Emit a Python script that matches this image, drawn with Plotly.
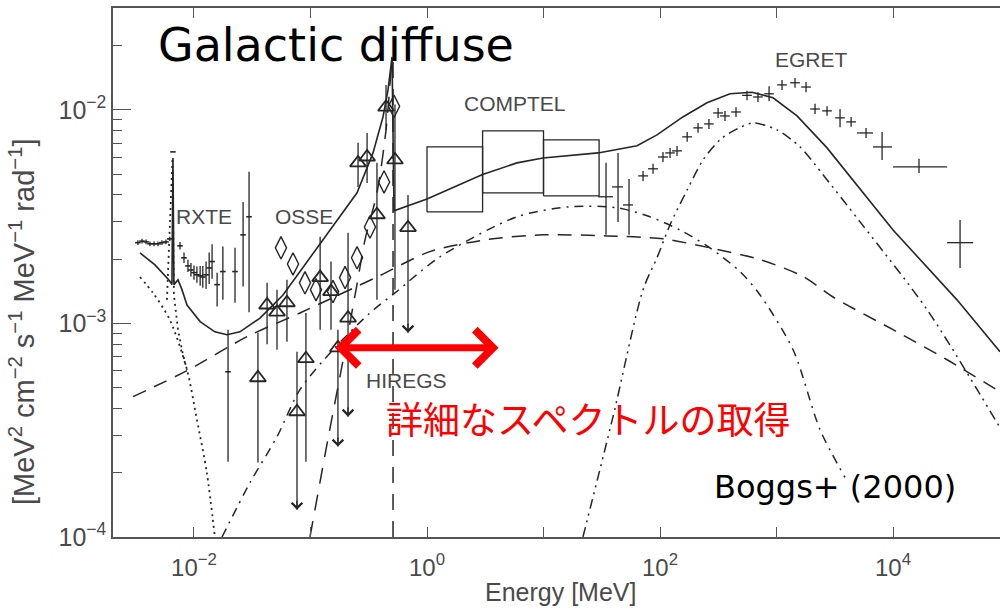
import math
import plotly.graph_objects as go

# ---------------- model components (E in MeV, flux in MeV^2 cm^-2 s^-1 MeV^-1 rad^-1) ----------------
total_E = [3.44e-3, 4.63e-3, 6.2e-3, 6.47e-3, 6.6e-3, 6.73e-3, 7.29e-3, 7.89e-3, 8.71e-3, 1.13e-2,
           1.51e-2, 1.92e-2, 2.48e-2, 3.69e-2, 5.81e-2, 9.9e-2, 0.169, 0.251, 0.344, 0.419,
           0.463, 0.501, 0.521, 1.0, 2.96, 5.92, 9.9, 29.4, 63.5, 94.2,
           157, 253, 399, 616, 933, 1500, 2713, 1.0e4, 3.54e4, 8.28e4]
total_F = [2.14e-3, 1.88e-3, 1.58e-3, 1.52e-3, 5.96e-3, 1.52e-3, 1.60e-3, 1.44e-3, 1.22e-3, 1.02e-3,
           9.14e-4, 8.85e-4, 9.14e-4, 1.06e-3, 1.36e-3, 2.03e-3, 3.05e-3, 4.09e-3, 6.29e-3, 9.27e-3,
           1.24e-2, 1.77e-2, 3.37e-3, 3.83e-3, 4.97e-3, 5.65e-3, 5.96e-3, 6.29e-3, 6.79e-3, 7.64e-3,
           9.27e-3, 1.08e-2, 1.19e-2, 1.21e-2, 1.14e-2, 9.37e-3, 6.64e-3, 2.74e-3, 1.29e-3, 7.38e-4]

ic_E = [3.0e-3, 8.71e-3, 2.85e-2, 8.12e-2, 0.380, 1.06, 3.27, 9.9, 35.1, 106, 268, 722, 1687, 3055,
        1.0e4, 2.91e4, 8.28e4]
ic_F = [4.54e-4, 6.01e-4, 8.67e-4, 1.12e-3, 1.66e-3, 2.17e-3, 2.47e-3, 2.60e-3, 2.57e-3, 2.49e-3,
        2.26e-3, 1.99e-3, 1.66e-3, 1.33e-3, 9.35e-4, 6.76e-4, 4.79e-4]

brems_E = [1.74e-2, 3.03e-2, 5.16e-2, 8.12e-2, 0.156, 0.324, 0.531, 1.29, 5.92, 16.9, 42.7, 82.0,
           148, 268, 486, 722, 1387, 2363, 3873]
brems_F = [1e-4, 1.80e-4, 2.95e-4, 4.9e-4, 7.53e-4, 1.12e-3, 1.39e-3, 2.05e-3, 3.16e-3, 3.52e-3,
           3.48e-3, 3.16e-3, 2.74e-3, 2.26e-3, 1.75e-3, 1.36e-3, 7.53e-4, 3.18e-4, 1.90e-4]

pi0_E = [21.8, 39.5, 71.5, 94.2, 122, 171, 234, 327, 458, 628, 1009, 1592, 2506, 5210, 1.96e4, 8.28e4]
pi0_F = [1e-4, 3.66e-4, 1.44e-3, 2.03e-3, 2.90e-3, 4.22e-3, 5.83e-3, 7.24e-3, 8.15e-3, 8.69e-3,
         8.06e-3, 6.71e-3, 4.97e-3, 2.99e-3, 1.16e-3, 3.25e-4]

thermal_E = [3.44e-3, 4.45e-3, 6.2e-3, 8.71e-3, 1.06e-2, 1.29e-2, 1.51e-2]
thermal_F = [1.65e-3, 1.39e-3, 1.04e-3, 6.07e-4, 3.54e-4, 2.0e-4, 1e-4]

feline_E = [5.86e-3, 6.54e-3, 6.73e-3, 7.29e-3, 8.05e-3, 8.71e-3]
feline_F = [1.29e-3, 5.96e-3, 1.36e-3, 9.35e-4, 7.14e-4, 6.07e-4]

pos_E = [9.9e-2, 0.141, 0.198, 0.251, 0.294, 0.372, 0.445, 0.491]
pos_F = [1e-4, 2.86e-4, 7.53e-4, 1.53e-3, 2.47e-3, 4.09e-3, 8.06e-3, 1.54e-2]

line511_E = [0.511, 0.511]
line511_F = [1e-4, 1.7e-2]

# ---------------- measurements ----------------
rxte_E = [3.30e-3, 3.58e-3, 3.88e-3, 4.19e-3, 4.54e-3, 4.91e-3, 5.31e-3, 5.75e-3, 6.2e-3, 6.6e-3,
          7.59e-3, 8.21e-3, 8.88e-3, 9.42e-3, 1.0e-2, 1.06e-2, 1.13e-2, 1.19e-2, 1.27e-2, 1.35e-2,
          1.43e-2, 1.58e-2, 1.77e-2, 1.96e-2, 2.25e-2, 2.64e-2, 2.97e-2]
rxte_F = [2.39e-3, 2.43e-3, 2.41e-3, 2.36e-3, 2.36e-3, 2.36e-3, 2.39e-3, 2.41e-3, 2.49e-3, 6.36e-3,
          2.31e-3, 2.03e-3, 1.86e-3, 1.78e-3, 1.73e-3, 1.69e-3, 1.67e-3, 1.65e-3, 1.69e-3, 1.82e-3,
          1.95e-3, 1.52e-3, 1.75e-3, 5.94e-4, 1.75e-3, 2.60e-3, 3.16e-3]
rxte_lo = [2.33e-3, 2.37e-3, 2.35e-3, 2.30e-3, 2.30e-3, 2.30e-3, 2.33e-3, 2.35e-3, 2.43e-3, 6.36e-3,
           2.22e-3, 1.92e-3, 1.74e-3, 1.66e-3, 1.60e-3, 1.55e-3, 1.50e-3, 1.47e-3, 1.45e-3, 1.53e-3,
           1.62e-3, 1.20e-3, 1.29e-3, 2.25e-4, 1.25e-3, 1.49e-3, 1.13e-3]
rxte_hi = [2.45e-3, 2.49e-3, 2.47e-3, 2.42e-3, 2.42e-3, 2.42e-3, 2.45e-3, 2.47e-3, 2.55e-3, 6.36e-3,
           2.41e-3, 2.15e-3, 1.99e-3, 1.92e-3, 1.87e-3, 1.85e-3, 1.86e-3, 1.86e-3, 1.95e-3, 2.15e-3,
           2.35e-3, 1.73e-3, 2.29e-3, 9.35e-4, 2.26e-3, 3.71e-3, 5.13e-3]

osse_E = [5.58e-2, 7.08e-2, 8.97e-2, 0.1115, 0.156, 0.198, 0.251, 0.324, 0.428, 0.521]
osse_F = [2.26e-3, 1.90e-3, 1.55e-3, 1.44e-3, 1.41e-3, 1.64e-3, 2.03e-3, 2.83e-3, 4.60e-3, 1.04e-2]

hiregs_E = [3.54e-2, 4.24e-2, 5.16e-2, 6.28e-2, 7.66e-2, 9.14e-2, 0.121, 0.150, 0.172, 0.210,
            0.256, 0.306, 0.372, 0.445, 0.531, 0.687]
hiregs_F = [5.57e-4, 1.22e-3, 1.13e-3, 1.25e-3, 3.86e-4, 6.84e-4, 1.64e-3, 1.41e-3, 7.69e-4, 1.06e-3,
            5.65e-3, 6.02e-3, 3.23e-3, 1.03e-2, 5.83e-3, 2.81e-3]
hiregs_lo = [2.23e-4, 8.0e-4, 7.53e-4, 8.2e-4, 1.34e-4, 2.25e-4, 9.35e-4, 9.35e-4, 2.65e-4, 3.66e-4,
             4.36e-3, 4.55e-3, 1.29e-3, 8.06e-3, 1.44e-3, 9.05e-4]
hiregs_hi = [9.05e-4, 1.55e-3, 1.44e-3, 1.60e-3, 7.38e-4, 1.12e-3, 2.55e-3, 1.95e-3, 9.35e-4, 2.66e-3,
             7.01e-3, 7.80e-3, 5.65e-3, 1.31e-2, 1.06e-2, 4.0e-3]
hiregs_uplim = [0, 0, 0, 0, 1, 0, 0, 0, 1, 1, 0, 0, 0, 0, 0, 1]

comptel_Elo = [1.0, 3.0, 10.0]
comptel_Ehi = [3.0, 10.0, 30.0]
comptel_Flo = [3.33e-3, 4.09e-3, 3.96e-3]
comptel_Fhi = [6.71e-3, 7.98e-3, 7.24e-3]

comptel2_E = [34.4, 43.6, 54.2]
comptel2_F = [3.92e-3, 4.36e-3, 3.59e-3]
comptel2_Elo = [29.4, 38.7, 48.1]
comptel2_Ehi = [39.5, 48.1, 58.6]
comptel2_Flo = [2.60e-3, 2.99e-3, 2.60e-3]
comptel2_Fhi = [5.65e-3, 6.29e-3, 4.75e-3]

egret_E = [71.5, 87.1, 106, 122, 140, 171, 212, 263, 315, 361, 449, 558, 693, 863, 1115, 1441, 1791,
           2140, 2713, 3508, 4365, 5866, 8050, 1.67e4, 3.76e4]
egret_F = [4.91e-3, 5.30e-3, 6.02e-3, 6.29e-3, 6.43e-3, 7.48e-3, 8.24e-3, 8.6e-3, 9.68e-3, 9.37e-3,
           9.78e-3, 1.17e-2, 1.15e-2, 1.19e-2, 1.31e-2, 1.34e-2, 1.28e-2, 1.01e-2, 9.9e-3, 9.18e-3,
           8.79e-3, 7.80e-3, 6.71e-3, 5.41e-3, 2.39e-3]
egret_Elo = [65, 79, 96, 111, 127, 155, 193, 239, 286, 328, 408, 507, 630, 785, 1014, 1310, 1628,
             1945, 2466, 3189, 3968, 4909, 6730, 1.0e4, 2.91e4]
egret_Ehi = [79, 96, 117, 134, 154, 188, 233, 289, 347, 397, 494, 614, 762, 949, 1227, 1585, 1970,
             2354, 2984, 3859, 4802, 6730, 9800, 2.91e4, 4.87e4]
egret_Flo = [4.65e-3, 5.02e-3, 5.70e-3, 5.96e-3, 6.09e-3, 7.09e-3, 7.81e-3, 8.15e-3, 9.17e-3, 8.88e-3,
             9.27e-3, 1.11e-2, 1.09e-2, 1.10e-2, 1.24e-2, 1.27e-2, 1.21e-2, 9.57e-3, 9.38e-3, 8.3e-3,
             8.33e-3, 7.39e-3, 5.83e-3, 5.07e-3, 1.82e-3]
egret_Fhi = [5.18e-3, 5.59e-3, 6.35e-3, 6.64e-3, 6.78e-3, 7.89e-3, 8.69e-3, 9.07e-3, 1.02e-2, 9.89e-3,
             1.03e-2, 1.23e-2, 1.21e-2, 1.29e-2, 1.38e-2, 1.41e-2, 1.35e-2, 1.07e-2, 1.04e-2, 1.01e-2,
             9.27e-3, 8.23e-3, 7.89e-3, 5.90e-3, 3.05e-3]

# arrow marking the HIREGS band
arrow_E = [0.162, 4.24]
arrow_F = 7.69e-4

x_tickvals = [1e-2, 1e-1, 1e0, 1e1, 1e2, 1e3, 1e4]
x_ticktext = ["10<sup>−2</sup>", "", "10<sup>0</sup>", "", "10<sup>2</sup>", "", "10<sup>4</sup>"]
y_tickvals = [1e-4, 1e-3, 1e-2]
y_ticktext = ["10<sup>−4</sup>", "10<sup>−3</sup>", "10<sup>−2</sup>"]

INK = "#262626"
AXIS = "#555555"
LABEL = "#4a4a4a"


def bars(val, lo, hi):
    return dict(type="data", symmetric=False,
                array=[h - v for v, h in zip(val, hi)],
                arrayminus=[v - l for v, l in zip(val, lo)],
                width=0, thickness=1.3, color=INK)


fig = go.Figure()


def curve(E, F, dash, width=1.5, shape="linear"):
    fig.add_trace(go.Scatter(x=E, y=F, mode="lines", hoverinfo="skip",
                             line=dict(color=INK, width=width, dash=dash, shape=shape,
                                       smoothing=0.8)))


curve(thermal_E, thermal_F, "2px,4px", 1.8, "spline")
curve(feline_E, feline_F, "2px,4px", 1.8)
curve(ic_E, ic_F, "14px,9px", 1.5, "spline")
curve(brems_E, brems_F, "9px,6px,2px,6px", 1.5, "spline")
curve(pi0_E, pi0_F, "10px,5px,2px,5px,2px,5px", 1.5, "spline")
curve(pos_E, pos_F, "16px,11px", 1.5, "spline")
curve(line511_E, line511_F, "16px,11px", 1.5)
curve(total_E, total_F, "solid", 1.6)

# COMPTEL boxes
bx, by = [], []
for e0, e1, f0, f1 in zip(comptel_Elo, comptel_Ehi, comptel_Flo, comptel_Fhi):
    bx += [e0, e1, e1, e0, e0, None]
    by += [f0, f0, f1, f1, f0, None]
fig.add_trace(go.Scatter(x=bx, y=by, mode="lines", line=dict(color=INK, width=1.3),
                         hoverinfo="skip"))

# COMPTEL high-energy crosses
fig.add_trace(go.Scatter(x=comptel2_E, y=comptel2_F, mode="markers",
                         marker=dict(size=2, color="rgba(0,0,0,0)"),
                         error_y=bars(comptel2_F, comptel2_Flo, comptel2_Fhi),
                         error_x=bars(comptel2_E, comptel2_Elo, comptel2_Ehi)))

# EGRET crosses
fig.add_trace(go.Scatter(x=egret_E, y=egret_F, mode="markers",
                         marker=dict(size=2, color="rgba(0,0,0,0)"),
                         error_y=bars(egret_F, egret_Flo, egret_Fhi),
                         error_x=bars(egret_E, egret_Elo, egret_Ehi)))

# RXTE
fig.add_trace(go.Scatter(x=rxte_E, y=rxte_F, mode="markers",
                         marker=dict(symbol="line-ew", size=4, line=dict(color=INK, width=1.6)),
                         error_y=bars(rxte_F, rxte_lo, rxte_hi)))

# OSSE diamonds
fig.add_trace(go.Scatter(x=osse_E, y=osse_F, mode="markers",
                         marker=dict(symbol="diamond-tall-open", size=16,
                                     color=INK, line=dict(color=INK, width=1.4))))

# HIREGS triangles
fig.add_trace(go.Scatter(x=hiregs_E, y=hiregs_F, mode="markers",
                         marker=dict(symbol="triangle-up-open", size=14,
                                     color=INK, line=dict(color=INK, width=1.8)),
                         error_y=bars(hiregs_F, hiregs_lo, hiregs_hi)))

annotations = []
# upper-limit arrow heads
for e, lo, ul in zip(hiregs_E, hiregs_lo, hiregs_uplim):
    if ul:
        annotations.append(dict(x=math.log10(e), y=math.log10(lo), ax=math.log10(e),
                                ay=math.log10(lo) + 0.05, xref="x", yref="y", axref="x", ayref="y",
                                text="", showarrow=True, arrowhead=4, arrowsize=1.6,
                                arrowwidth=1.3, arrowcolor=INK))

# red double arrow
annotations.append(dict(x=math.log10(arrow_E[0]), y=math.log10(arrow_F),
                        ax=math.log10(arrow_E[1]), ay=math.log10(arrow_F),
                        xref="x", yref="y", axref="x", ayref="y", text="", showarrow=True,
                        arrowhead=4, startarrowhead=4, arrowside="end+start",
                        arrowsize=1.0, startarrowsize=1.0, arrowwidth=7, arrowcolor="#ff0000"))

# plot area: x 113..1000 px, y 8..537 px
def px(x):
    return (x - 113) / 887.0


def py(y):
    return (537 - y) / 529.0


def label(text, x, y, size, color, family, angle=0):
    annotations.append(dict(text=text, x=px(x), y=py(y), xref="paper", yref="paper",
                            showarrow=False, xanchor="center", yanchor="middle",
                            textangle=angle, font=dict(size=size, color=color, family=family)))


inst = "Liberation Sans, Arial, sans-serif"
label("RXTE", 204, 216, 21, LABEL, inst)
label("OSSE", 304, 216, 21, LABEL, inst)
label("COMPTEL", 515, 103, 21, LABEL, inst)
label("EGRET", 811, 59, 21, LABEL, inst)
label("HIREGS", 406, 380, 21, LABEL, inst)
label("Galactic diffuse", 336, 45, 46, "#000000", "DejaVu Sans")
label("Boggs+ (2000)", 835, 487, 32, "#000000", "DejaVu Sans")
label("詳細なスペクトルの取得", 588, 418, 37, "#ff0000", "Noto Sans CJK JP")
label("Energy [MeV]", 560, 592, 25, LABEL, inst)
label("[MeV<sup>2</sup> cm<sup>−2</sup> s<sup>−1</sup> MeV<sup>−1</sup> rad<sup>−1</sup>]",
      22, 322, 29, LABEL, inst, -90)

y_minor = []
for e in (-4, -3, -2):
    for k in range(2, 10):
        v = k * 10.0 ** e
        if v < 0.0295:
            y_minor.append(v)

fig.update_layout(
    width=1000, height=610,
    margin=dict(l=113, r=0, t=8, b=73),
    paper_bgcolor="white", plot_bgcolor="white",
    showlegend=False,
    annotations=annotations,
    xaxis=dict(type="log", range=[-2.695, 4.918], showgrid=False, zeroline=False,
               showline=True, linecolor=AXIS, linewidth=1.5, mirror="ticks",
               ticks="inside", ticklen=10, tickwidth=1.3, tickcolor=AXIS,
               tickvals=x_tickvals, ticktext=x_ticktext, ticklabelstandoff=8,
               tickfont=dict(family=inst, size=24, color=LABEL)),
    yaxis=dict(type="log", range=[-4, -1.5227], showgrid=False, zeroline=False,
               showline=True, linecolor=AXIS, linewidth=1.5,
               ticks="inside", ticklen=18, tickwidth=1.3, tickcolor=AXIS,
               tickvals=y_tickvals, ticktext=y_ticktext,
               tickfont=dict(family=inst, size=25, color=LABEL),
               minor=dict(ticks="inside", ticklen=9, tickwidth=1.1, tickcolor=AXIS,
                          tickvals=y_minor, showgrid=False)),
)

fig.write_html("out.html")
